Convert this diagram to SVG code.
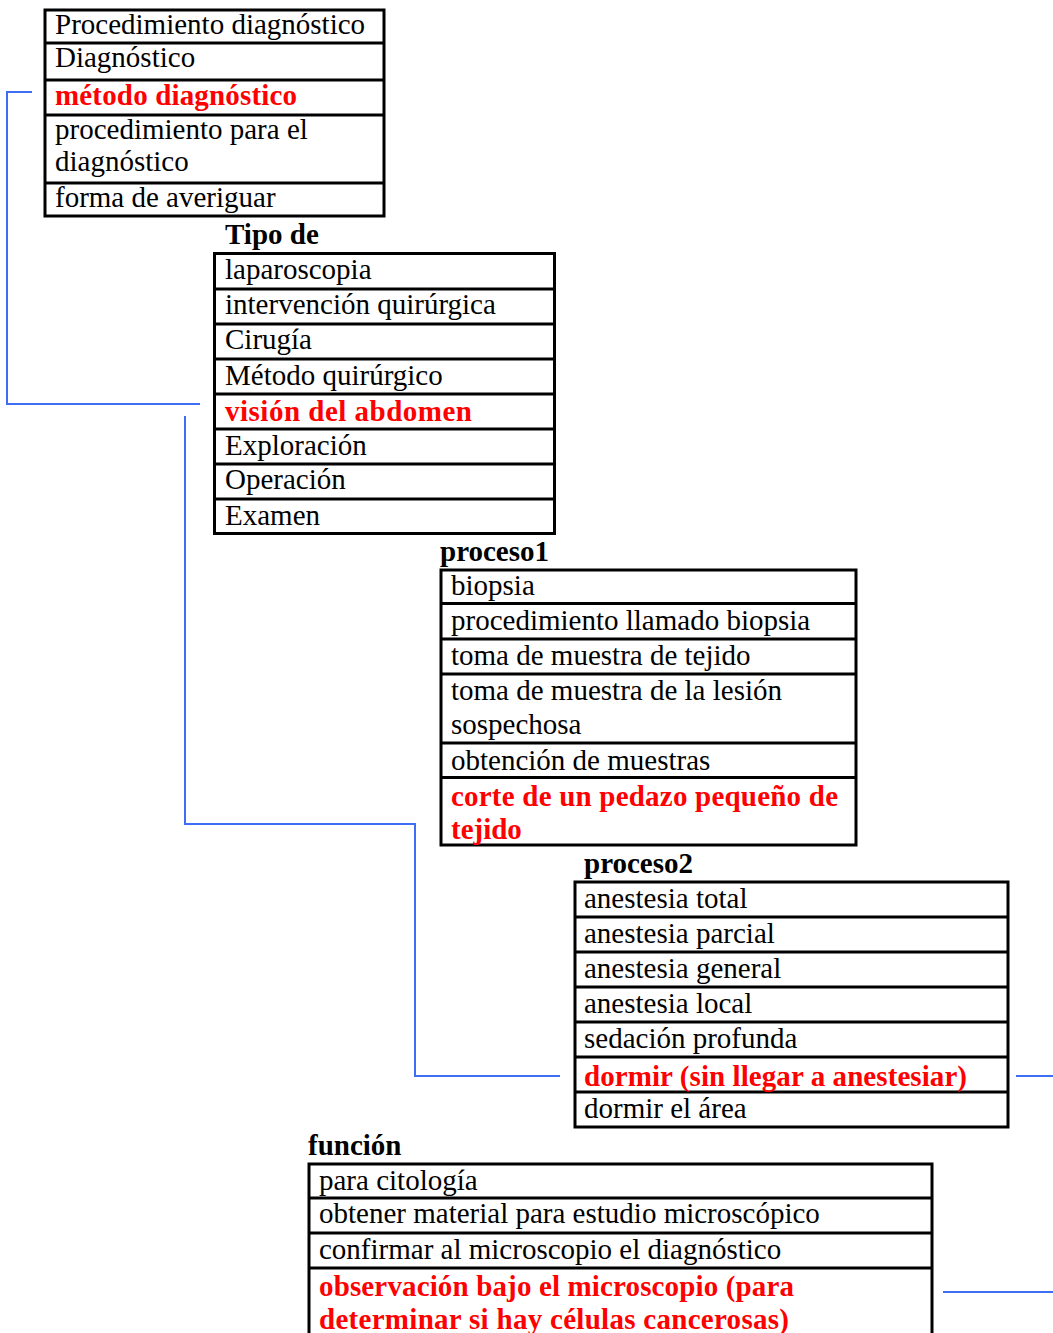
<svg xmlns="http://www.w3.org/2000/svg" width="1053" height="1333" viewBox="0 0 1053 1333">
<style>
text{font-family:"Liberation Serif","Times New Roman",serif;font-size:29px;fill:#000}
.h{font-weight:bold}
.r{font-weight:bold;fill:#ff0000}
.box{fill:#fff;stroke:#000;stroke-width:3}
.sep{stroke:#000;stroke-width:3}
.con{fill:none;stroke:#3d6ef5;stroke-width:2}
</style>
<rect width="1053" height="1333" fill="#fff"/>
<g id="connectors">
<path class="con" d="M32,92 H7 V404 H200"/>
<path class="con" d="M185,416 V824 H415 V1076 H560"/>
<path class="con" d="M1016,1076 H1053"/>
<path class="con" d="M943,1292 H1053"/>
</g>
<g id="node-diagnostico">
<rect class="box" x="45" y="10" width="339" height="206"/>
<path class="sep" d="M45,43 H384 M45,80 H384 M45,115 H384 M45,183 H384"/>
<text x="55" y="34">Procedimiento diagnóstico</text>
<text x="55" y="67">Diagnóstico</text>
<text class="r" x="55" y="105" textLength="242">método diagnóstico</text>
<text x="55" y="139">procedimiento para el</text>
<text x="55" y="171">diagnóstico</text>
<text x="55" y="207">forma de averiguar</text>
</g>
<g id="node-tipo-de">
<text class="h" x="225" y="244">Tipo de</text>
<rect class="box" x="214.5" y="253.5" width="340" height="280"/>
<path class="sep" d="M214,289 H555 M214,324 H555 M214,359 H555 M214,394 H555 M214,429 H555 M214,464 H555 M214,499 H555"/>
<text x="225" y="279">laparoscopia</text>
<text x="225" y="314">intervención quirúrgica</text>
<text x="225" y="349">Cirugía</text>
<text x="225" y="385">Método quirúrgico</text>
<text class="r" x="225" y="421" textLength="247">visión del abdomen</text>
<text x="225" y="455">Exploración</text>
<text x="225" y="489">Operación</text>
<text x="225" y="525">Examen</text>
</g>
<g id="node-proceso1">
<text class="h" x="440" y="561">proceso1</text>
<rect class="box" x="441" y="570" width="415" height="275"/>
<path class="sep" d="M441,603.5 H856 M441,639 H856 M441,674 H856 M441,743 H856 M441,777.5 H856"/>
<text x="451" y="595">biopsia</text>
<text x="451" y="630">procedimiento llamado biopsia</text>
<text x="451" y="665">toma de muestra de tejido</text>
<text x="451" y="700">toma de muestra de la lesión</text>
<text x="451" y="734">sospechosa</text>
<text x="451" y="770">obtención de muestras</text>
<text class="r" x="451" y="806" textLength="387">corte de un pedazo pequeño de</text>
<text class="r" x="451" y="839">tejido</text>
</g>
<g id="node-proceso2">
<text class="h" x="584" y="873">proceso2</text>
<rect class="box" x="575" y="882" width="433" height="245"/>
<path class="sep" d="M575,917 H1008 M575,952 H1008 M575,987 H1008 M575,1022 H1008 M575,1057 H1008 M575,1092 H1008"/>
<text x="584" y="908">anestesia total</text>
<text x="584" y="943">anestesia parcial</text>
<text x="584" y="978">anestesia general</text>
<text x="584" y="1013">anestesia local</text>
<text x="584" y="1048">sedación profunda</text>
<text class="r" x="584" y="1086" textLength="383">dormir (sin llegar a anestesiar)</text>
<text x="584" y="1118">dormir el área</text>
</g>
<g id="node-funcion">
<text class="h" x="308" y="1155">función</text>
<rect class="box" x="309" y="1164" width="623" height="200"/>
<path class="sep" d="M309,1198 H932 M309,1233 H932 M309,1268 H932"/>
<text x="319" y="1190">para citología</text>
<text x="319" y="1223">obtener material para estudio microscópico</text>
<text x="319" y="1259">confirmar al microscopio el diagnóstico</text>
<text class="r" x="319" y="1296" textLength="475">observación bajo el microscopio (para</text>
<text class="r" x="319" y="1329" textLength="470">determinar si hay células cancerosas)</text>
</g>
</svg>
